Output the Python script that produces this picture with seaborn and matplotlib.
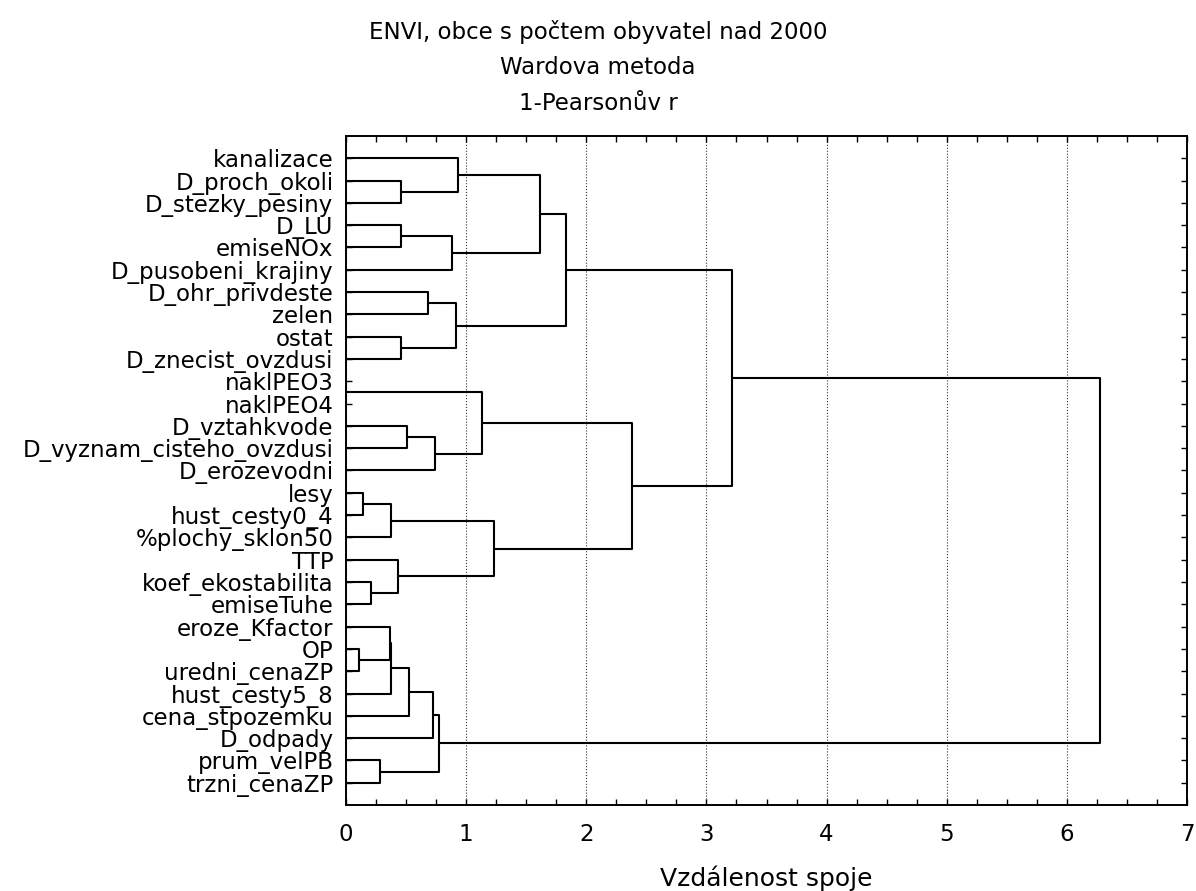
import matplotlib
matplotlib.use('Agg')
import matplotlib.pyplot as plt
from matplotlib.ticker import MultipleLocator
import pandas as pd
import seaborn as sns

# leaves, top to bottom
labels = [
    'kanalizace', 'D_proch_okoli', 'D_stezky_pesiny', 'D_LU', 'emiseNOx',
    'D_pusobeni_krajiny', 'D_ohr_privdeste', 'zelen', 'ostat',
    'D_znecist_ovzdusi', 'naklPEO3', 'naklPEO4', 'D_vztahkvode',
    'D_vyznam_cisteho_ovzdusi', 'D_erozevodni', 'lesy', 'hust_cesty0_4',
    '%plochy_sklon50', 'TTP', 'koef_ekostabilita', 'emiseTuhe',
    'eroze_Kfactor', 'OP', 'uredni_cenaZP', 'hust_cesty5_8',
    'cena_stpozemku', 'D_odpady', 'prum_velPB', 'trzni_cenaZP',
]

# linkage steps: ids < 29 are leaves, step k creates cluster 29 + k
merge_a = [10, 22, 15, 19, 27, 21, 31, 34, 18, 1, 3, 8, 12, 36,
           6, 42, 41, 44, 39, 43, 0, 29, 35, 49, 52, 50, 53, 55]
merge_b = [11, 23, 16, 20, 28, 30, 17, 24, 32, 2, 4, 9, 13, 25,
           7, 26, 14, 33, 5, 40, 38, 45, 37, 47, 48, 51, 54, 46]
merge_dist = [0.0, 0.106, 0.144, 0.211, 0.283, 0.366, 0.372, 0.375,
              0.433, 0.455, 0.458, 0.46, 0.505, 0.527, 0.683, 0.722,
              0.739, 0.772, 0.883, 0.918, 0.933, 1.132, 1.235, 1.618,
              1.829, 2.379, 3.216, 6.28]

sns.set_theme(style='ticks')
plt.rcParams['font.family'] = ['DejaVu Sans']

# turn linkage into bracket polylines
pos = {i: float(i) for i in range(len(labels))}
height = {i: 0.0 for i in range(len(labels))}
rows = []
for k, (a, b, d) in enumerate(zip(merge_a, merge_b, merge_dist)):
    node = len(labels) + k
    for x, y in [(height[a], pos[a]), (d, pos[a]), (d, pos[b]), (height[b], pos[b])]:
        rows.append({'link': node, 'dist': x, 'row': y})
    pos[node] = (pos[a] + pos[b]) / 2
    height[node] = d
segs = pd.DataFrame(rows)

W, H = 1196, 891
fig = plt.figure(figsize=(W / 100, H / 100), dpi=100)
ax = fig.add_axes([346 / W, 1 - 805 / H, (1187 - 346) / W, (805 - 136) / H])

sns.lineplot(data=segs, x='dist', y='row', units='link', estimator=None,
             sort=False, color='black', linewidth=1.5, legend=False, ax=ax)

ax.set_xlim(0, 7)
ax.set_ylim(len(labels), -1)
ax.set_yticks(range(len(labels)), labels)
ax.xaxis.set_major_locator(MultipleLocator(1))
ax.xaxis.set_minor_locator(MultipleLocator(0.25))
ax.tick_params(which='both', direction='in', top=True, right=True,
               length=4, width=1, color='black', labelcolor='black')
ax.tick_params(axis='y', labelsize=16.5, pad=9)
ax.tick_params(axis='x', labelsize=16.5, pad=13)
ax.grid(axis='x', which='major', linestyle=':', color='#333333', linewidth=0.8)
for s in ax.spines.values():
    s.set_color('black')
    s.set_linewidth(1.4)
ax.set_xlabel('')
ax.set_ylabel('')

fig.text(598 / W, 1 - 32 / H, 'ENVI, obce s počtem obyvatel nad 2000',
         ha='center', va='center', fontsize=16.5, color='black')
fig.text(598 / W, 1 - 68 / H, 'Wardova metoda',
         ha='center', va='center', fontsize=16.5, color='black')
fig.text(598 / W, 1 - 103 / H, '1-Pearsonův r',
         ha='center', va='center', fontsize=16.5, color='black')
fig.text(766 / W, 1 - 878 / H, 'Vzdálenost spoje',
         ha='center', va='center', fontsize=18, color='black')

fig.savefig('out.png', dpi=100)
